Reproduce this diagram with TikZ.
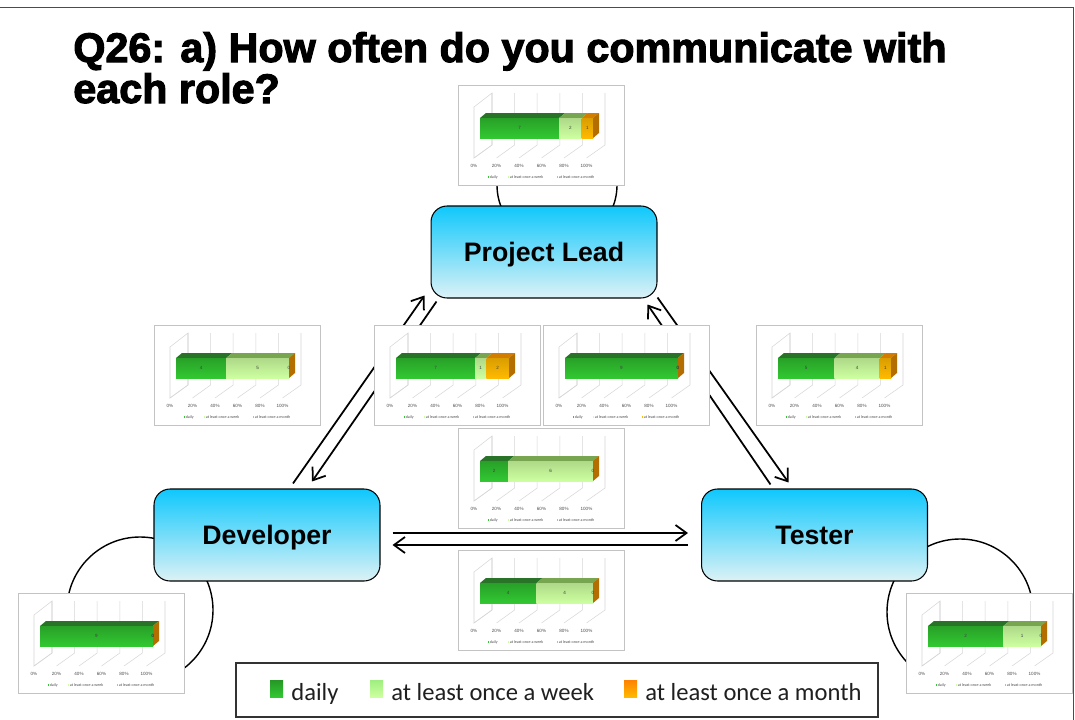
\documentclass[tikz,border=0pt]{standalone}
\usepackage{fontspec}
\setmainfont{Liberation Sans}
\newfontfamily\legendfont{Carlito}
\newfontfamily\titlefont{Liberation Sans}[BoldFeatures={FakeBold=2.6}]
\usetikzlibrary{arrows.meta,calc,positioning}
\definecolor{dailygreen}{RGB}{50,200,50}
\definecolor{dailytop}{RGB}{40,115,40}
\definecolor{weekgreen}{RGB}{205,255,160}
\definecolor{weektop}{RGB}{120,165,80}
\definecolor{monthorange}{RGB}{255,185,0}
\definecolor{monthtop}{RGB}{210,125,0}
\definecolor{monthside}{RGB}{180,110,0}
\definecolor{boxtop}{RGB}{15,200,252}
\definecolor{boxbottom}{RGB}{220,242,246}
\definecolor{gridgray}{RGB}{215,215,215}
\definecolor{framegray}{RGB}{195,195,195}
% small 3D bar chart: name, x, y (top left, px), daily, week, month
\newcommand{\commchart}[6]{%
  \begin{scope}[shift={(#2,#3)}]
    \pgfmathsetmacro\xa{22+113*#4/(#4+#5+#6)}
    \pgfmathsetmacro\xb{22+113*(#4+#5)/(#4+#5+#6)}
    \draw[chartframe] (0,0) rectangle (166,100);
    \draw[chartgrid] (16,73) -- (16,22) -- (34,8) -- (34,60) -- cycle;
    \foreach \i in {0,...,5} {
      \draw[chartgrid] ({16+22.5*\i},73) -- ({34+22.6*\i},60) -- ({34+22.6*\i},8);
      \pgfmathtruncatemacro\pct{20*\i}
      \node[charttick] (#1-t\i) at ({16+22.5*\i},81) {\pct\%};
    }
    % bar faces
    \fill[dailytop] (22,33) -- (28,28) -- (\xa+6,28) -- (\xa,33) -- cycle;
    \fill[weektop] (\xa,33) -- (\xa+6,28) -- (\xb+6,28) -- (\xb,33) -- cycle;
    \fill[monthtop] (\xb,33) -- (\xb+6,28) -- (141,28) -- (135,33) -- cycle;
    \shade[top color=dailygreen!80!black, bottom color=dailygreen] (22,33) rectangle (\xa,53);
    \shade[top color=weekgreen!85!black, bottom color=weekgreen] (\xa,33) rectangle (\xb,53);
    \shade[top color=monthorange!85!black, bottom color=monthorange] (\xb,33) rectangle (135,53);
    \fill[monthside] (135,33) -- (141,28) -- (141,48) -- (135,53) -- cycle;
    \node[chartnum] (#1-d) at ({(22+\xa)/2},43) {#4};
    \node[chartnum] (#1-w) at ({(\xa+\xb)/2},43) {#5};
    \node[chartnum] (#1-m) at ({(\xb+135)/2},43) {#6};
    % key
    \fill[dailygreen] (29.5,91.2) rectangle (31,92.7);
    \node[chartkey] (#1-k1) at (31.5,92) {daily};
    \fill[weekgreen] (49.5,91.2) rectangle (51,92.7);
    \node[chartkey] (#1-k2) at (51.5,92) {at least once a week};
    \fill[monthorange] (98.5,91.2) rectangle (100,92.7);
    \node[chartkey] (#1-k3) at (100.5,92) {at least once a month};
  \end{scope}}

\begin{document}
\begin{tikzpicture}[x=0.02cm, y=-0.02cm,
  role/.style={draw=black, line width=0.6pt, rounded corners=0.32cm,
    minimum width=4.52cm, minimum height=1.84cm,
    top color=boxtop, bottom color=boxbottom,
    font=\fontsize{15.2}{18}\selectfont\bfseries, text depth=0pt},
  link/.style={line width=1pt, -{Straight Barb[length=2.2mm, width=3.2mm]}},
  loopline/.style={line width=0.8pt},
  chartframe/.style={draw=framegray, fill=white, line width=0.5pt},
  chartgrid/.style={draw=gridgray, line width=0.3pt},
  charttick/.style={font=\fontsize{2.6}{3}\selectfont, text=black!70, inner sep=0pt},
  chartnum/.style={font=\fontsize{2.6}{3}\selectfont, text=black!75, inner sep=0pt},
  chartkey/.style={font=\legendfont\fontsize{2.3}{3}\selectfont, text=black!70,
    inner sep=0pt, anchor=west},
  keytext/.style={font=\legendfont\fontsize{14}{16}\selectfont, text=black!88,
    anchor=base west, inner sep=0pt}]
\useasboundingbox (0,0) rectangle (1075,720);
\draw[line width=0.5pt, black!70] (0,7) -- (1073,7) -- (1073,720);

% title
\node[font=\titlefont\bfseries\fontsize{23.5}{28}\selectfont, anchor=base west, inner sep=0pt]
  (title1) at (73,62) {Q26: a) How often do you communicate with};
\node[font=\titlefont\bfseries\fontsize{23.5}{28}\selectfont, anchor=base west, inner sep=0pt]
  (title2) at (73,103) {each role?};

% self loops
\draw[loopline] (557,185) circle (60);
\draw[loopline] (140,610) circle (73);
\draw[loopline] (960,612) circle (73);

% roles
\node[role] (PL) at (544,252) {Project Lead};
\node[role] (Dev) at (267,535) {Developer};
\node[role] (Tst) at (814.5,535) {Tester};

% connectors
\draw[link] ($(Dev.north)+(26,-5)$) -- ($(PL.south west)+(-6,-3)$);
\draw[link] ($(PL.south west)+(6,3)$) -- ($(Dev.north)+(45,-7)$);
\draw[link] ($(Tst.north)+(-44,-4)$) -- ($(PL.south east)+(-10,6)$);
\draw[link] ($(PL.south east)+(0,-1)$) -- ($(Tst.north)+(-26,-6)$);
\draw[link] ($(Dev.east)+(12,-2)$) -- ($(Tst.west)+(-13,-2)$);
\draw[link] ($(Tst.west)+(-13,10)$) -- ($(Dev.east)+(12,10)$);

% charts
\commchart{plpl}{458}{85}{7}{2}{1}
\commchart{devleft}{154}{325}{4}{5}{0}
\commchart{devpl}{374}{325}{7}{1}{2}
\commchart{pltst}{543}{325}{9}{0}{0}
\commchart{tstpl}{756}{325}{5}{4}{1}
\commchart{pldev}{458}{428}{2}{6}{0}
\commchart{devtst}{458}{550}{4}{4}{0}
\commchart{devdev}{18}{593}{9}{0}{0}
\commchart{tsttst}{906}{593}{2}{1}{0}

% legend
\draw[line width=0.8pt, black!80] (236,663) rectangle (878,717);
\shade[top color=dailygreen!75!black, bottom color=dailygreen] (270,680) rectangle (283,697);
\node[keytext] (keyd) at (291,700) {daily};
\shade[top color=weekgreen!70!dailygreen, bottom color=weekgreen] (370,680) rectangle (383,697);
\node[keytext] (keyw) at (391,700) {at least once a week};
\shade[top color=monthorange!70!red, bottom color=monthorange] (624,680) rectangle (637,697);
\node[keytext] (keym) at (645,700) {at least once a month};
\end{tikzpicture}
\end{document}
